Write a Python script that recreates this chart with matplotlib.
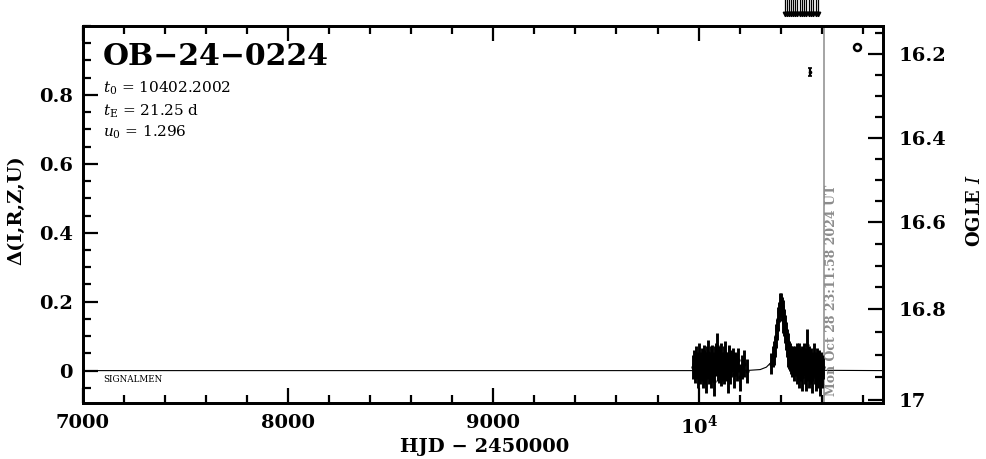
import numpy as np
import matplotlib
matplotlib.use("Agg")
import matplotlib.pyplot as plt
from matplotlib.ticker import MultipleLocator, FuncFormatter, FixedLocator, FixedFormatter

# ---------------- data ----------------
hjd_2023 = [9975, 9980, 9984, 9988, 9991, 9995, 9999, 10003, 10006, 10010,
            10013, 10017, 10020, 10024, 10027, 10031, 10034, 10038, 10041, 10045,
            10048, 10052, 10055, 10059, 10062, 10066, 10069, 10073, 10076, 10080,
            10083, 10087, 10090, 10094, 10097, 10101, 10104, 10108, 10111, 10115,
            10118, 10122, 10126, 10130, 10134, 10138, 10142, 10146, 10150, 10155,
            10160, 10166, 10172, 10178, 10185, 10192, 10200, 10210, 10222, 10236]
d_2023 = [0.01, 0.02, 0.00, 0.03, 0.01, -0.01, 0.02, 0.04, 0.00, 0.02,
          0.01, 0.03, -0.01, 0.02, 0.04, 0.00, 0.02, -0.02, 0.03, 0.01,
          0.05, 0.00, 0.02, 0.03, -0.01, 0.04, 0.01, 0.02, -0.03, 0.03,
          0.02, 0.04, 0.07, 0.01, 0.00, 0.03, 0.02, -0.01, 0.04, 0.01,
          0.02, 0.00, 0.03, 0.05, 0.01, 0.02, -0.02, 0.03, 0.04, 0.00,
          0.02, 0.03, -0.01, 0.02, 0.01, 0.03, -0.02, 0.01, 0.02, 0.00]
e_2023 = [0.035, 0.04, 0.035, 0.04, 0.035, 0.04, 0.035, 0.04, 0.04, 0.035,
          0.04, 0.035, 0.04, 0.04, 0.035, 0.04, 0.035, 0.045, 0.04, 0.035,
          0.04, 0.04, 0.035, 0.04, 0.04, 0.035, 0.04, 0.035, 0.045, 0.04,
          0.035, 0.04, 0.04, 0.04, 0.035, 0.04, 0.04, 0.035, 0.04, 0.04,
          0.035, 0.04, 0.04, 0.035, 0.04, 0.035, 0.045, 0.04, 0.035, 0.04,
          0.04, 0.035, 0.04, 0.035, 0.04, 0.035, 0.04, 0.035, 0.04, 0.035]

hjd_2024 = [10352, 10360, 10366, 10372, 10378, 10383, 10388, 10393, 10397, 10401,
            10405, 10409, 10413, 10417, 10421, 10425, 10429, 10433, 10437, 10441,
            10446, 10451, 10456, 10461, 10466,
            10470, 10474, 10477, 10481, 10484, 10488, 10491, 10495, 10498, 10502,
            10505, 10509, 10512, 10516, 10519, 10523, 10526, 10530, 10533, 10537,
            10540, 10544, 10547, 10551, 10554, 10558, 10561, 10565, 10568, 10572,
            10575, 10579, 10582, 10586, 10590, 10594, 10598, 10602, 10606]
d_2024 = [0.02, 0.04, 0.05, 0.07, 0.10, 0.12, 0.15, 0.17, 0.19, 0.19,
          0.18, 0.17, 0.15, 0.14, 0.12, 0.10, 0.08, 0.07, 0.05, 0.045,
          0.04, 0.03, 0.02, 0.03, 0.01,
          0.03, 0.02, 0.04, 0.00, 0.02, 0.04, -0.01, 0.03, 0.01, 0.03,
          -0.02, 0.02, 0.04, 0.00, 0.03, -0.02, 0.02, 0.075, 0.01, -0.01,
          0.03, 0.00, 0.03, 0.01, -0.02, 0.02, 0.04, 0.00, 0.02, -0.02,
          0.01, 0.03, -0.01, 0.02, -0.03, 0.02, 0.00, -0.01, 0.01]
e_2024 = [0.03, 0.03, 0.035, 0.03, 0.035, 0.03, 0.035, 0.03, 0.035, 0.035,
          0.035, 0.035, 0.04, 0.04, 0.04, 0.04, 0.04, 0.04, 0.04, 0.04,
          0.04, 0.04, 0.04, 0.04, 0.04,
          0.04, 0.035, 0.04, 0.04, 0.035, 0.04, 0.04, 0.035, 0.04, 0.04,
          0.04, 0.035, 0.04, 0.04, 0.035, 0.04, 0.04, 0.045, 0.04, 0.04,
          0.04, 0.04, 0.035, 0.04, 0.045, 0.035, 0.04, 0.04, 0.035, 0.04,
          0.04, 0.035, 0.04, 0.04, 0.045, 0.035, 0.04, 0.04, 0.035]

# isolated points
hjd_outlier = [10542]
d_outlier = [0.866]
e_outlier = [0.012]
hjd_circle = [10771]
d_circle = [0.938]

# epochs flagged by arrows above the frame
hjd_arrows = [10423, 10431, 10440, 10450, 10460, 10471, 10481, 10492,
              10504, 10515, 10525, 10536, 10547, 10559, 10570, 10580]

# model curve
model_hjd = [7000, 10150, 10250, 10300, 10330, 10350, 10365, 10380, 10390, 10396,
             10402, 10408, 10414, 10424, 10439, 10454, 10474, 10504, 10554, 10900]
model_d = [0.0, 0.0, 0.001, 0.003, 0.010, 0.022, 0.048, 0.102, 0.157, 0.182,
           0.191, 0.182, 0.157, 0.102, 0.048, 0.022, 0.010, 0.003, 0.001, 0.0]

event_name = "OB\u221224\u22120224"
t0_text = "10402.2002"
tE_text = "21.25 d"
u0_text = "1.296"
date_text = "Mon Oct 28 23:11:58 2024 UT"
hjd_now = 10611.5

# right-axis (OGLE I) calibration against the left axis
mag_cal = [16.1, 16.2, 16.4, 16.6, 16.8, 17.0, 17.05]
delta_cal = [1.039, 0.918, 0.676, 0.432, 0.178, -0.086, -0.152]
mag_major = [16.2, 16.4, 16.6, 16.8, 17.0]
mag_major_labels = ["16.2", "16.4", "16.6", "16.8", "17"]

# ---------------- figure ----------------
plt.rcParams['font.family'] = ['DejaVu Serif']
plt.rcParams['mathtext.fontset'] = 'dejavuserif'

W, H = 986, 459
fig = plt.figure(figsize=(W / 100, H / 100), dpi=100)
L, R, T, B = 82.5, 883, 26, 403
ax = fig.add_axes([L / W, 1 - B / H, (R - L) / W, (B - T) / H])

ax.set_xlim(7000, 10898)
ax.set_ylim(-0.094, 1.0)

ax.plot(model_hjd, model_d, color='k', lw=0.8, zorder=2)

ekw = dict(fmt='o', ms=2.0, color='k', ecolor='k', elinewidth=2.1, capsize=0, zorder=3)
ax.errorbar(hjd_2023, d_2023, yerr=e_2023, **ekw)
ax.errorbar(hjd_2024, d_2024, yerr=e_2024, **ekw)
ax.errorbar(hjd_outlier, d_outlier, yerr=e_outlier, fmt='o', ms=1.6, color='k',
            elinewidth=1.6, capsize=1.5, capthick=1.2, zorder=3)
ax.plot(hjd_circle, d_circle, 'o', mfc='none', mec='k', ms=5, mew=1.8, zorder=3)

ax.axvline(hjd_now, color='#8c8c8c', lw=1.1, zorder=1)
ax.text(hjd_now + 38, -0.073, date_text, rotation=90, ha='center', va='bottom',
        fontsize=9, fontweight='bold', color='#8c8c8c')

for xa in hjd_arrows:
    ax.plot([xa, xa], [1.0745, 1.036], color='k', lw=0.9, clip_on=False, zorder=4)
    ax.plot([xa], [1.036], marker='v', color='k', ms=3.2, clip_on=False, zorder=4)

# annotations
ax.text(7100, 0.912, event_name, fontsize=21.5, fontweight='bold', ha='left', va='center')
ax.text(7100, 0.819, r"$t_0$ = " + t0_text, fontsize=11, ha='left', va='center')
ax.text(7100, 0.752, r"$t_{\rm E}$ = " + tE_text, fontsize=11, ha='left', va='center')
ax.text(7100, 0.691, r"$u_0$ = " + u0_text, fontsize=11, ha='left', va='center')
ax.text(7100, -0.027, "SIGNALMEN", fontsize=6.3, ha='left', va='center')

# axes styling
for s in ax.spines.values():
    s.set_linewidth(2.0)

ax.xaxis.set_major_locator(MultipleLocator(1000))
ax.xaxis.set_minor_locator(MultipleLocator(200))
ax.yaxis.set_major_locator(FixedLocator([0, 0.2, 0.4, 0.6, 0.8]))
ax.yaxis.set_minor_locator(MultipleLocator(0.05))


def xfmt(v, pos):
    if abs(v - 10000) < 1:
        return r"$\mathbf{10^4}$"
    return "%d" % v


def yfmt(v, pos):
    if abs(v) < 1e-9:
        return "0"
    return "%.1f" % v


ax.xaxis.set_major_formatter(FuncFormatter(xfmt))
ax.yaxis.set_major_formatter(FuncFormatter(yfmt))
ax.tick_params(which='both', direction='in', top=True, right=False, width=1.6,
               labelsize=14)
ax.tick_params(which='major', length=11)
ax.tick_params(which='minor', length=5.8)
ax.tick_params(axis='x', which='major', pad=8)
ax.tick_params(axis='y', which='major', pad=7)
for lab in ax.get_xticklabels() + ax.get_yticklabels():
    lab.set_fontweight('bold')

# right axis: OGLE I
ax2 = ax.twinx()
ax2.set_ylim(ax.get_ylim())
maj_pos = np.interp(mag_major, mag_cal, delta_cal)
minor_mags = [m for m in np.arange(16.15, 17.001, 0.05)
              if min(abs(m - mm) for mm in mag_major) > 1e-6]
min_pos = np.interp(minor_mags, mag_cal, delta_cal)
ax2.yaxis.set_major_locator(FixedLocator(maj_pos))
ax2.yaxis.set_major_formatter(FixedFormatter(mag_major_labels))
ax2.yaxis.set_minor_locator(FixedLocator(min_pos))
ax2.tick_params(which='both', direction='in', width=1.6, labelsize=14)
ax2.tick_params(which='major', length=11, pad=11)
ax2.tick_params(which='minor', length=5.8)
for lab in ax2.get_yticklabels():
    lab.set_fontweight('bold')
for s in ax2.spines.values():
    s.set_linewidth(2.0)

# axis titles
fig.text(485 / W, 1 - 447 / H, "HJD \u2212 2450000", fontsize=14, fontweight='bold',
         ha='center', va='center')
fig.text(16 / W, 1 - 210 / H, "\u0394(I,R,Z,U)", fontsize=14, fontweight='bold',
         rotation=90, ha='center', va='center')
fig.text(975 / W, 1 - 210 / H, r"OGLE $I$", fontsize=13, fontweight='bold',
         rotation=90, ha='center', va='center')

fig.savefig("out.png", dpi=100)
